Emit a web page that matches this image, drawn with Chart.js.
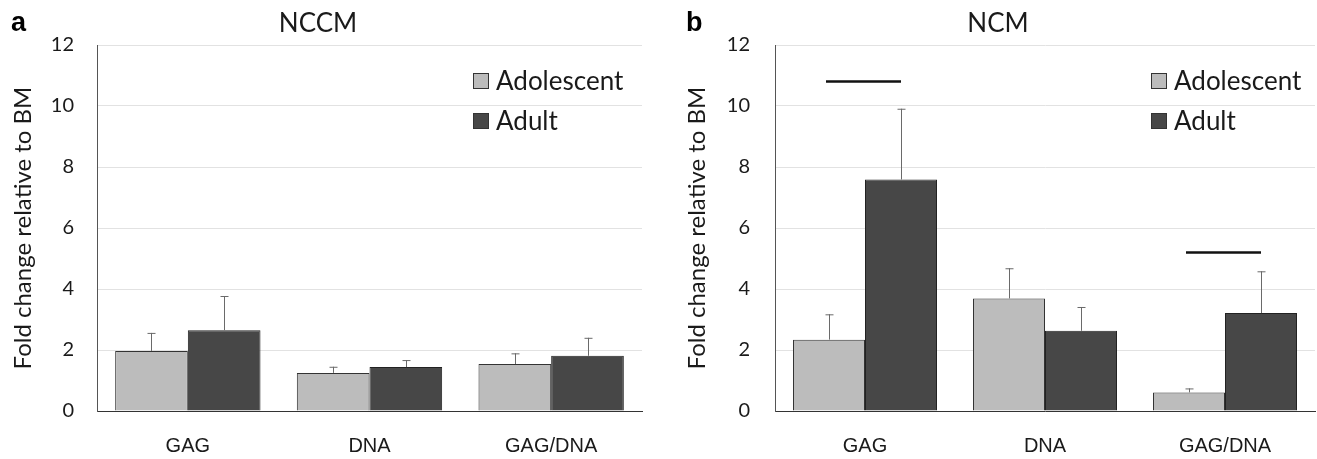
<!DOCTYPE html>
<html>
<head>
<meta charset="utf-8">
<script src="https://cdn.jsdelivr.net/npm/chart.js@4/dist/chart.umd.min.js"></script>
<style>
  body { margin: 0; background: #fff; }
  #wrap { position: relative; width: 1317px; height: 459px; }
  .panel { position: absolute; top: 0; }
</style>
</head>
<body>
<div id="wrap">
  <div class="panel" style="left:0px;"><canvas id="grafico-a" width="660" height="459"></canvas></div>
  <div class="panel" style="left:660px;"><canvas id="grafico-b" width="657" height="459"></canvas></div>
</div>
<script>
// datos
var categorias = ['GAG', 'DNA', 'GAG/DNA'];
var series = ['Adolescent', 'Adult'];
var yTicks = [0, 2, 4, 6, 8, 10, 12];

var nccmAdolescent = [1.97, 1.25, 1.54];
var nccmAdolescentErr = [0.59, 0.20, 0.35];
var nccmAdult = [2.65, 1.44, 1.81];
var nccmAdultErr = [1.12, 0.23, 0.59];

var ncmAdolescent = [2.34, 3.69, 0.61];
var ncmAdolescentErr = [0.83, 0.99, 0.13];
var ncmAdult = [7.59, 2.63, 3.21];
var ncmAdultErr = [2.32, 0.78, 1.37];
var ncmSignificancia = [10.8, null, 5.2];

var colores = ['#bcbcbc', '#474747'];
var fuente = 'Lato, "Open Sans", sans-serif';
var fuenteX = '"Liberation Sans", Arial, sans-serif';

Chart.defaults.color = '#1a1a1a';
Chart.defaults.font.family = fuente;

var extras = {
  id: 'extras',
  afterDatasetsDraw: function(chart) {
    var ctx = chart.ctx;
    var cfg = chart.options.plugins.extras;
    var yScale = chart.scales.y;
    var area = chart.chartArea;

    // barras de error (solo hacia arriba)
    ctx.save();
    ctx.strokeStyle = '#6a6a6a';
    ctx.lineWidth = 1;
    chart.data.datasets.forEach(function(ds, d) {
      var meta = chart.getDatasetMeta(d);
      meta.data.forEach(function(bar, i) {
        var top = yScale.getPixelForValue(ds.data[i] + ds.errores[i]);
        var x = Math.round(bar.x) + 0.5;
        ctx.beginPath();
        ctx.moveTo(x, bar.y);
        ctx.lineTo(x, top);
        ctx.moveTo(x - 4, top + 0.5);
        ctx.lineTo(x + 4, top + 0.5);
        ctx.stroke();
      });
    });

    // lineas de significancia
    if (cfg.significancia) {
      ctx.strokeStyle = '#111';
      ctx.lineWidth = 2.5;
      var m0 = chart.getDatasetMeta(0), m1 = chart.getDatasetMeta(1);
      cfg.significancia.forEach(function(v, i) {
        if (v === null) return;
        var y = yScale.getPixelForValue(v);
        ctx.beginPath();
        ctx.moveTo(m0.data[i].x - 3, y);
        ctx.lineTo(m1.data[i].x, y);
        ctx.stroke();
      });
    }

    // leyenda
    ctx.font = '26px ' + fuente;
    ctx.textBaseline = 'middle';
    ctx.textAlign = 'left';
    chart.data.datasets.forEach(function(ds, d) {
      var bx = area.right - cfg.leyendaDx;
      var by = area.top + 36 + d * 40;
      ctx.fillStyle = ds.backgroundColor;
      ctx.fillRect(bx, by - 8, 16, 16);
      ctx.strokeStyle = '#333';
      ctx.lineWidth = 1;
      ctx.strokeRect(bx + 0.5, by - 7.5, 15, 15);
      ctx.fillStyle = '#1a1a1a';
      ctx.fillText(ds.label, bx + 23, by + 1);
    });

    // titulo y letra del panel
    ctx.textAlign = 'center';
    ctx.font = '26px ' + fuente;
    ctx.fillText(cfg.titulo, cfg.tituloX, 24);
    ctx.textAlign = 'left';
    ctx.font = 'bold 27px ' + fuenteX;
    ctx.fillStyle = '#000';
    ctx.fillText(cfg.letra, cfg.letraX, 24);
    ctx.restore();
  }
};

function crearGrafico(id, adolescente, adolescenteErr, adulto, adultoErr, cfg) {
  var contexto = document.getElementById(id).getContext('2d');
  return new Chart(contexto, {
    type: 'bar',
    data: {
      labels: categorias,
      datasets: [
        { label: series[0], data: adolescente, errores: adolescenteErr,
          backgroundColor: colores[0], borderColor: '#333', borderWidth: 1 },
        { label: series[1], data: adulto, errores: adultoErr,
          backgroundColor: colores[1], borderColor: '#222', borderWidth: 1 }
      ]
    },
    options: {
      responsive: false,
      animation: false,
      categoryPercentage: 0.8,
      barPercentage: 1.0,
      layout: { padding: { top: 45, right: cfg.derecha, left: 0, bottom: 0 } },
      plugins: {
        legend: { display: false },
        title: { display: false },
        tooltip: { enabled: false },
        extras: cfg
      },
      scales: {
        x: {
          grid: { display: false },
          border: { display: true, color: '#333', width: 1 },
          ticks: { padding: 15, font: { size: 20, family: fuenteX }, color: '#1a1a1a' },
          afterFit: function(s) { s.height = 48; }
        },
        y: {
          min: 0,
          max: 12,
          afterBuildTicks: function(s) { s.ticks = yTicks.map(function(v) { return { value: v }; }); },
          grid: { color: '#e2e2e2', lineWidth: 1, drawTicks: false },
          border: { display: true, color: '#555', width: 1 },
          ticks: { padding: cfg.tickPad, font: { size: 20 }, color: '#1a1a1a' },
          title: { display: true, text: 'Fold change relative to BM', font: { size: 24 },
                   color: '#1a1a1a', padding: { top: cfg.tituloYPad, bottom: 0 } },
          afterFit: function(s) { s.width = cfg.anchoEjeY; }
        }
      }
    },
    plugins: [extras]
  });
}

crearGrafico('grafico-a', nccmAdolescent, nccmAdolescentErr, nccmAdult, nccmAdultErr, {
  titulo: 'NCCM', tituloX: 318, letra: 'a', letraX: 11,
  leyendaDx: 169, derecha: 18, anchoEjeY: 97, tickPad: 23, tituloYPad: 9, significancia: null
});
crearGrafico('grafico-b', ncmAdolescent, ncmAdolescentErr, ncmAdult, ncmAdultErr, {
  titulo: 'NCM', tituloX: 338, letra: 'b', letraX: 26,
  leyendaDx: 164, derecha: 2, anchoEjeY: 115, tickPad: 25, tituloYPad: 23, significancia: ncmSignificancia
});
</script>
</body>
</html>
